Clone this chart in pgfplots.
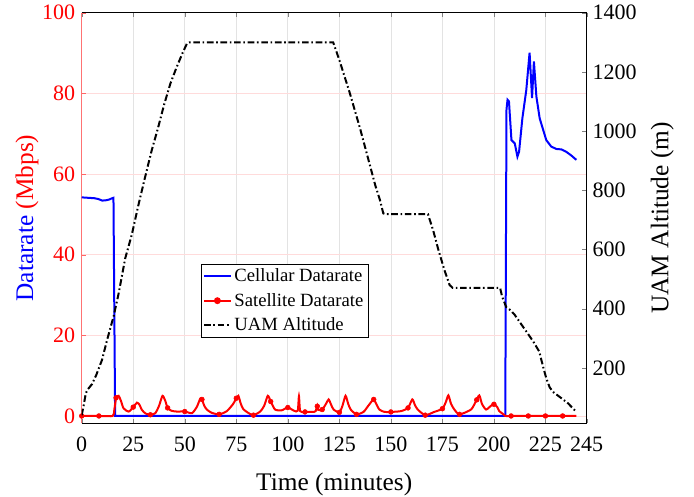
\documentclass[border=0pt]{standalone}
\usepackage{fontspec}
\setmainfont{Liberation Serif}
\usepackage{pgfplots}
\pgfplotsset{compat=1.18}

\pgfplotsset{
  dualbase/.style={
    scale only axis, width=378.75pt, height=307.95pt,
    at={(0,0)}, anchor=south west,
    xmin=0, xmax=245, xtick={0,25,...,225,245},
    tick align=inside, major tick length=3.5pt,
    /pgf/number format/assume math mode=true,
    /pgf/number format/1000 sep={},
    tick label style={font=\fontsize{16.5}{16.5}\selectfont},
    label style={font=\fontsize{19}{19}\selectfont},
  },
}

% satellite markers (every ~8.3 min)
\pgfplotstableread{
t v
0 0
8.33 0
16.67 4.5
25 2.2
33.33 0.3
41.67 2.0
50 1.1
58.33 4.1
66.67 0.4
75 4.4
83.33 0.2
91.67 3.6
100 2.1
108.33 1.0
114.3 2.4
116.67 1.6
125 0.9
133.33 0.4
141.67 4.1
150 1.0
158.33 2.0
166.67 0.2
175 1.8
183.33 0.4
191.67 4.0
200 2.9
208.33 0
216.67 0
225 0
233.33 0
}\satmarks

\begin{document}
\begin{tikzpicture}
\useasboundingbox (-61.3pt,-55.3pt) rectangle (459.25pt,317.45pt);

\begin{axis}[
    dualbase,
    ymin=-1.8, ymax=100, ytick={0,20,...,100},
    axis x line*=box, axis y line*=left,
    ytick pos=left,
    x axis line style={black, line width=0.6pt},
    y axis line style={red!55, line width=0.6pt},
    ytick style={red!60},
    yticklabel style={red, xshift=-1.5pt},
    xticklabel style={yshift=-7pt},
    xmajorgrids, ymajorgrids,
    x grid style={gray!22, line width=0.5pt},
    y grid style={red!14, line width=0.5pt},
    xlabel={Time (minutes)},
    xlabel style={at={(rel axis cs:0.5,-0.165)}, anchor=base},
    ylabel={\textcolor{blue}{Datarate} \textcolor{red}{(Mbps)}},
    ylabel style={at={(rel axis cs:-0.0964,0.5)}, anchor=base},
]

% cellular
\addplot[blue, line width=1.5pt] coordinates {
  (0,54.2)(3,54.1)(6,54.0)(8,53.8)(10,53.4)(12,53.5)(13.5,53.7)(14.8,54.0)
  (15.4,54.1)(16.2,0)(205.5,0)(206.1,76)(206.6,78.4)(207.3,78)(208.5,68.4)
  (210.1,67.6)(211.4,64.3)(212.2,65.5)(213.8,73.8)(215.7,80.8)(217.3,90.1)
  (218.5,78.8)(219.4,87.9)(220.6,79.2)(222.2,73.8)(225.4,68.4)(227.8,66.8)
  (230.3,66.2)(232.7,66.1)(235.1,65.5)(237.5,64.6)(240,63.5)
};

% satellite line
\addplot[red, line width=1.5pt, smooth, tension=0.4] coordinates {
  (0,0)(8.3,0)(15,0)(15.8,1.5)(16.7,4.5)(17.9,5.0)(19,3.8)(20.3,1.9)(22.8,1.1)
  (25,2.2)(26.8,3.3)(28,2.8)(29.2,1.5)(31,0.6)(33.3,0.3)(35.7,0.7)(37.5,2.5)
  (39.2,5.0)(40.5,3.8)(41.7,2.0)(43.5,1.3)(46,1.1)(50,1.1)(53.5,0.7)(55.9,2.3)
  (57.5,4.3)(58.3,4.1)(59.5,2.5)(60.7,1.6)(63,0.8)(66.7,0.4)(70.4,1.2)(73.5,3.0)
  (74.9,4.3)(76,5.0)(77.2,3.0)(78.4,1.7)(81,0.7)(83.3,0.2)(86.6,1.1)(88.5,2.5)
  (90.3,5.0)(91.7,3.6)(93.8,1.6)(97,1.4)(100,2.1)(103,1.3)(104.8,1.3)(105.4,4.9)
  (106,1.2)(108.3,1.0)(112,1.0)(113.5,1.2)(114.3,2.6)(114.8,1.5)(116.7,1.6)
  (118.5,3.0)(119.8,4.1)(121,2.8)(122.2,1.6)(125,0.9)(126.5,2.5)(128,5.0)
  (129.3,3.0)(130.5,1.6)(133.3,0.4)(136.7,1.0)(139,2.5)(141.5,4.1)(142.3,3.6)
  (144.4,1.6)(147,1.0)(150,1.0)(154.9,1.2)(158.3,2.0)(160.4,4.1)(161.6,2.8)
  (163,1.6)(166.7,0.2)(171,1.0)(175,1.8)(176.7,3.5)(177.9,5.1)(179.2,3.0)
  (180.8,1.6)(183.3,0.4)(188.9,1.6)(191.2,3.6)(192.9,5.1)(194.2,3.0)(196.2,1.6)
  (198.5,2.5)(200,2.9)(201.5,2.3)(202.6,1.2)(204.4,0.5)(205.5,0)(208.3,0)
  (216.7,0)(225,0)(233.3,0)(240,0)
};
\addplot[red, only marks, mark=*, mark size=1.8pt] table[x=t, y=v] {\satmarks};
\end{axis}

\begin{axis}[
    dualbase,
    ymin=13, ymax=1400, ytick={200,400,...,1400},
    axis x line=none, axis y line*=right,
    ytick pos=right, yticklabel pos=right,
    y axis line style={black, line width=0.6pt},
    yticklabel style={xshift=1pt},
    ylabel={UAM Altitude (m)},
    ylabel style={at={(rel axis cs:1.1616,0.5)}, anchor=base},
    legend style={at={(rel axis cs:0.2357,0.388)}, anchor=north west,
      draw=black, line width=0.5pt, fill=white,
      font=\fontsize{14}{14}\selectfont, inner sep=1.5pt, row sep=3pt},
    legend cell align=left,
    legend image code/.code={
      \draw[mark repeat=2, mark phase=2, #1] plot coordinates {(0pt,0pt) (10pt,0pt) (20pt,0pt)};
    },
]
\addlegendimage{blue, line width=1.5pt}
\addlegendentry{Cellular Datarate}
\addlegendimage{red, line width=1.5pt, mark=*, mark size=1.8pt}
\addlegendentry{Satellite Datarate}

\addplot[black, line width=1.5pt, dash pattern=on 5pt off 2pt on 1.2pt off 2pt] coordinates {
  (0,40)(1,75)(2,115)(3,128)(5,145)(7,175)(9.8,226)(12.3,294)(15.5,375)
  (17.9,451)(21.1,570)(24.3,650)(27.5,750)(30.8,846)(34,936)(37,1010)
  (40,1090)(43,1160)(46,1215)(49,1265)(51,1295)(52.5,1300)(122,1300)
  (125,1240)(130,1130)(135,1010)(140,880)(142.5,815)(144.7,767)(146.3,722)
  (147.5,719)(168,719)(170.5,665)(173,600)(176,530)(178.5,480)(180,470)
  (203,470)(204,440)(206,405)(208,395)(210,380)(213,350)(216,320)(219,290)
  (222,255)(224,200)(225.4,165)(227,135)(228.6,119)(231.9,102)(236,80)(240,51)
};
\addlegendentry{UAM Altitude}
\end{axis}
\end{tikzpicture}
\end{document}
